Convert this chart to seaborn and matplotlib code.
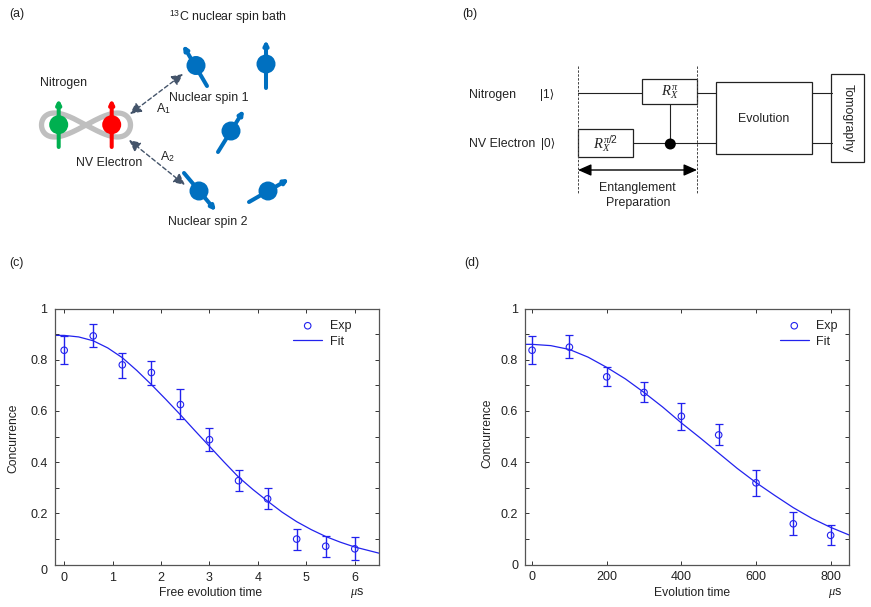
import numpy as np
import pandas as pd
import matplotlib
matplotlib.use('Agg')
import matplotlib.pyplot as plt
import seaborn as sns
from matplotlib.patches import Circle, Rectangle, FancyArrowPatch
from matplotlib.ticker import MultipleLocator
from matplotlib.transforms import ScaledTranslation

# panel (c)
time_c = [0, 0.6, 1.2, 1.8, 2.4, 3.0, 3.6, 4.2, 4.8, 5.4, 6.0]
conc_c = [0.837, 0.893, 0.780, 0.750, 0.625, 0.488, 0.328, 0.257, 0.100, 0.072, 0.062]
low_c = [0.783, 0.850, 0.730, 0.703, 0.567, 0.442, 0.286, 0.216, 0.058, 0.029, 0.020]
high_c = [0.893, 0.940, 0.827, 0.796, 0.684, 0.533, 0.371, 0.300, 0.140, 0.113, 0.107]
fit_time_c = [-0.2, 0, 0.3, 0.6, 0.9, 1.2, 1.5, 1.8, 2.1, 2.4, 2.7, 3.0, 3.3, 3.6, 3.9,
              4.2, 4.5, 4.8, 5.1, 5.4, 5.7, 6.0, 6.5]
fit_c = [0.895, 0.895, 0.889, 0.874, 0.846, 0.808, 0.758, 0.703, 0.645, 0.585, 0.523, 0.462,
         0.401, 0.342, 0.293, 0.248, 0.205, 0.168, 0.137, 0.110, 0.088, 0.069, 0.045]

# panel (d)
time_d = [0, 100, 200, 300, 400, 500, 600, 700, 800]
conc_d = [0.837, 0.849, 0.733, 0.672, 0.579, 0.506, 0.319, 0.159, 0.114]
low_d = [0.783, 0.805, 0.697, 0.633, 0.527, 0.466, 0.269, 0.114, 0.075]
high_d = [0.892, 0.896, 0.771, 0.711, 0.631, 0.547, 0.369, 0.204, 0.156]
fit_time_d = [-20, 0, 50, 100, 150, 200, 250, 300, 350, 400, 450, 500, 550, 600, 650,
              700, 750, 800, 850]
fit_d = [0.86, 0.86, 0.855, 0.84, 0.81, 0.77, 0.725, 0.672, 0.615, 0.553, 0.495, 0.435,
         0.375, 0.32, 0.27, 0.222, 0.18, 0.145, 0.115]

sns.set_theme(style='ticks')
plt.rcParams['font.family'] = ['Liberation Sans', 'DejaVu Sans']
plt.rcParams['mathtext.fontset'] = 'custom'
plt.rcParams['mathtext.rm'] = 'Liberation Sans'
plt.rcParams['mathtext.it'] = 'Liberation Serif:italic'

W, H = 871, 607
BLUE = '#2222ee'
SPIN = '#0070c0'
DARK = '#222222'
fig = plt.figure(figsize=(W / 100, H / 100), dpi=100)


def make_axes(x0, x1, y0, y1):
    return fig.add_axes([x0 / W, 1 - y1 / H, (x1 - x0) / W, (y1 - y0) / H])


def curve_panel(ax, t, c, lo, hi, ft, f, xlim, xticks, leg_anchor):
    c = np.array(c)
    ax.errorbar(t, c, yerr=[c - np.array(lo), np.array(hi) - c], fmt='none', ecolor=BLUE,
                elinewidth=1.0, capsize=2.6, capthick=0.9)
    sns.scatterplot(x=t, y=c, ax=ax, marker='o', s=22, facecolor='none', edgecolor=BLUE,
                    linewidth=0.8, label='Exp', clip_on=False, zorder=4)
    sns.lineplot(data=pd.DataFrame({'t': ft, 'f': f}), x='t', y='f', ax=ax, color=BLUE,
                 linewidth=0.9, label='Fit')
    ax.set_xlim(*xlim)
    ax.set_ylim(0, 1)
    ax.set_xticks(xticks)
    ax.set_yticks([0, 0.2, 0.4, 0.6, 0.8, 1])
    ax.set_yticklabels(['0', '0.2', '0.4', '0.6', '0.8', '1'])
    ax.yaxis.set_minor_locator(MultipleLocator(0.1))
    ax.tick_params(which='both', direction='in', top=True, right=True, length=3,
                   width=0.7, color='#333333', labelsize=9, labelcolor=DARK, pad=5)
    ax.tick_params(which='minor', length=3)
    ax.set_xlabel('')
    ax.set_ylabel('')
    for s in ax.spines.values():
        s.set_linewidth(0.9)
        s.set_color('#555555')
    ax.legend(loc='upper left', bbox_to_anchor=leg_anchor, frameon=False, fontsize=9,
              handlelength=2.35, handletextpad=0.6, labelspacing=0.3,
              borderpad=0, borderaxespad=0, labelcolor=DARK)


ax_c = make_axes(54.5, 379, 308.5, 564.7)
curve_panel(ax_c, time_c, conc_c, low_c, high_c, fit_time_c, fit_c, (-0.2, 6.5),
            [0, 1, 2, 3, 4, 5, 6], (0.735, 0.955))
# the zero of the y axis sits a little lower in this panel
lab = ax_c.get_yticklabels()[0]
lab.set_transform(lab.get_transform() + ScaledTranslation(0, -5 / 100, fig.dpi_scale_trans))

ax_d = make_axes(525, 849.3, 308.5, 564.5)
curve_panel(ax_d, time_d, conc_d, low_d, high_d, fit_time_d, fit_d, (-19, 850),
            [0, 200, 400, 600, 800], (0.785, 0.955))

# overlay in pixel coordinates for the schematics and the loose labels
ov = fig.add_axes([0, 0, 1, 1], facecolor='none')
ov.set_xlim(0, W)
ov.set_ylim(H, 0)
ov.axis('off')


def txt(x, y, s, ha='left', size=8.9, **kw):
    ov.text(x, y, s, ha=ha, va='center', fontsize=size, color=DARK, **kw)


for x, y, s in [(9.5, 14, '(a)'), (462, 14, '(b)'), (9.5, 263, '(c)'), (464, 263, '(d)')]:
    txt(x, y, s)

txt(211, 593, 'Free evolution time', ha='center', size=8.7)
txt(357, 593.5, r'$\mu$s', ha='center', size=9)
txt(13, 438, 'Concurrence', ha='center', size=8.7, rotation=90)
txt(692, 593, 'Evolution time', ha='center', size=8.7)
txt(835, 593.5, r'$\mu$s', ha='center', size=9)
txt(487, 433, 'Concurrence', ha='center', size=8.7, rotation=90)

# (a) NV centre and the spin bath
t = np.linspace(0, 2 * np.pi, 300)
ov.plot(86 + 44.5 * np.cos(t), 125 + 12 * np.sin(2 * t), color='#bfbfbf', lw=3.8,
        solid_capstyle='round')


def spin(cx, cy, tail, head, color, r=9.5):
    ov.add_patch(FancyArrowPatch(tail, head, arrowstyle='-|>', mutation_scale=6, lw=2.9,
                                 color=color, shrinkA=0, shrinkB=0, zorder=3))
    ov.add_patch(Circle((cx, cy), r, color=color, zorder=4, lw=0))


spin(58.7, 124.7, (58.7, 147), (58.7, 99), '#00b050')
spin(111.7, 124.7, (111.7, 147), (111.7, 99), '#ff0000')
spin(196, 65.5, (207, 86), (183, 45), SPIN)
spin(266, 64, (266, 88), (266, 40), SPIN)
spin(231, 131, (218, 152), (244, 110), SPIN)
spin(199, 191, (184, 173), (216, 211), SPIN)
spin(268, 191, (249, 202), (289, 179), SPIN)

for a, b in [((130, 114), (183, 74)), ((129, 140), (185, 185))]:
    ov.add_patch(FancyArrowPatch(a, b, arrowstyle='<|-|>,head_width=2.2,head_length=4.5',
                                 mutation_scale=1.5, lw=1, ls=(0, (3, 2)), color='#44546a',
                                 shrinkA=0, shrinkB=0))

txt(169, 17, r'$^{13}$C nuclear spin bath')
txt(40, 83, 'Nitrogen')
txt(169, 98, 'Nuclear spin 1')
txt(156, 109, r'A$_1$')
txt(76, 163, 'NV Electron')
txt(160, 157, r'A$_2$')
txt(168, 222, 'Nuclear spin 2')

# (b) pulse sequence
LC = '#222222'
for x in (578.3, 697):
    ov.plot([x, x], [66, 193], color='#444444', lw=0.7, ls=(0, (2.5, 1.5)))
for x0, x1, y in [(578, 642, 93.3), (697, 715.7, 93.3), (812, 831.5, 93.3),
                  (633, 715.7, 143.3), (812, 831.5, 143.3)]:
    ov.plot([x0, x1], [y, y], color=LC, lw=0.8)
ov.plot([669.5, 669.5], [103.7, 144], color=LC, lw=0.8)
ov.add_patch(Circle((670.3, 144), 5.5, color='black', zorder=4, lw=0))
for x0, x1, y0, y1 in [(642.3, 696.7, 79.3, 103.7), (578.3, 633.3, 129.3, 157),
                       (715.7, 812.3, 82, 153.7), (831.3, 864.3, 73.7, 161.7)]:
    ov.add_patch(Rectangle((x0, y0), x1 - x0, y1 - y0, fill=False, ec=LC, lw=0.9))
ov.add_patch(FancyArrowPatch((578, 170), (697, 170), arrowstyle='<|-|>,head_width=2.2,head_length=5',
                             mutation_scale=1.6, lw=1, color='black', shrinkA=0, shrinkB=0))

txt(468.7, 95, 'Nitrogen')
txt(540, 95, '|1⟩', size=8.5)
txt(468.7, 144, 'NV Electron')
txt(540.7, 144, '|0⟩', size=8.5)
txt(669.5, 92, r'$R_X^{\pi}$', ha='center', size=10.5)
txt(605.5, 144, r'$R_X^{\pi/2}$', ha='center', size=10.5)
txt(764, 119, 'Evolution', ha='center')
txt(848, 118, 'Tomography', ha='center', rotation=270)
txt(637.7, 188, 'Entanglement', ha='center')
txt(637.7, 203, 'Preparation', ha='center')

fig.savefig('out.png', dpi=100)
